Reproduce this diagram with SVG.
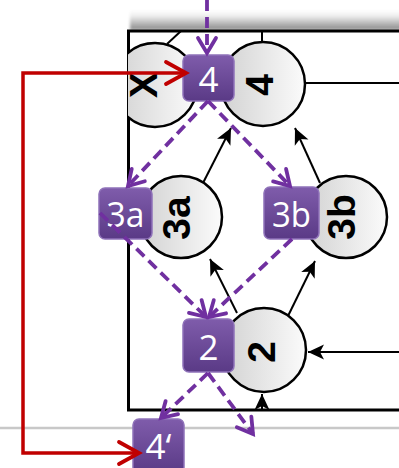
<svg xmlns="http://www.w3.org/2000/svg" width="399" height="468" viewBox="0 0 399 468">
  <style>
    .frame { stroke: #000; stroke-width: 3; fill: none; }
    .wire { stroke: #000; stroke-width: 2; fill: none; }
    .circ { fill: url(#circFill); stroke: #000; stroke-width: 2.5; }
    .ctext { font-family: "Liberation Sans", Arial, sans-serif; font-weight: bold; font-size: 39px; fill: #000; text-anchor: middle; }
    .tag { fill: url(#tagFill); stroke: #8f72b9; stroke-width: 1.5; }
    .ttext { font-family: "Open Sans", "Noto Sans", sans-serif; font-size: 35px; fill: #fff; text-anchor: middle; }
    .flow { stroke: #7030a0; stroke-width: 3.8; stroke-dasharray: 11 6; fill: none; marker-end: url(#vHead); }
    .back { stroke: #c00000; stroke-width: 3.5; fill: none; marker-start: url(#rHead); marker-end: url(#rHead); }
  </style>
  <defs>
    <linearGradient id="circFill" x1="0" y1="0" x2="1" y2="0">
      <stop offset="0" stop-color="#d2d2d2"/>
      <stop offset="1" stop-color="#fbfbfb"/>
    </linearGradient>
    <linearGradient id="tagFill" x1="0" y1="0" x2="0" y2="1">
      <stop offset="0" stop-color="#7f5cab"/>
      <stop offset="1" stop-color="#5a3a86"/>
    </linearGradient>
    <linearGradient id="shade" x1="0" y1="0" x2="0" y2="1">
      <stop offset="0" stop-color="#ffffff"/>
      <stop offset="0.3" stop-color="#eeeeee"/>
      <stop offset="1" stop-color="#888888"/>
    </linearGradient>
    <filter id="soft" x="-10%" y="-50%" width="120%" height="200%">
      <feGaussianBlur stdDeviation="1.5"/>
    </filter>
    <clipPath id="inside">
      <rect x="128" y="31" width="280" height="380"/>
    </clipPath>
    <marker id="vHead" markerUnits="userSpaceOnUse" viewBox="-18 -12 22 24" refX="0" refY="0" markerWidth="22" markerHeight="24" orient="auto">
      <path d="M-15,-9 L0,0 L-15,9" fill="none" stroke="#7030a0" stroke-width="3.8" stroke-dasharray="none" stroke-linecap="round" stroke-linejoin="miter"/>
    </marker>
    <marker id="rHead" markerUnits="userSpaceOnUse" viewBox="-24 -14 28 28" refX="0" refY="0" markerWidth="28" markerHeight="28" orient="auto-start-reverse">
      <path d="M-20,-11 L0,0 L-20,11" fill="none" stroke="#c00000" stroke-width="3.8" stroke-linecap="round"/>
    </marker>
    <marker id="kHead" markerUnits="userSpaceOnUse" viewBox="-17 -9 19 18" refX="0" refY="0" markerWidth="19" markerHeight="18" orient="auto">
      <path d="M0,0 L-16,-7.5 L-12,0 L-16,7.5 Z" fill="#000"/>
    </marker>
  </defs>

  <!-- page rule and frame -->
  <line x1="0" y1="428" x2="399" y2="428" stroke="#c8c8c8" stroke-width="2.5"/>
  <rect x="130" y="10" width="275" height="20" fill="url(#shade)" filter="url(#soft)"/>
  <g id="frame">
    <path class="frame" d="M399,31 H128.5 V410 H399"/>
  </g>

  <!-- circuit wires -->
  <g id="wires">
    <line class="wire" x1="167" y1="44" x2="181" y2="31"/>
    <line class="wire" x1="262" y1="31" x2="262" y2="43"/>
    <line class="wire" x1="305" y1="83" x2="399" y2="83"/>
    <line class="wire" x1="203" y1="183" x2="231" y2="128" marker-end="url(#kHead)"/>
    <line class="wire" x1="320" y1="183" x2="295" y2="128" marker-end="url(#kHead)"/>
    <line class="wire" x1="237" y1="313" x2="210" y2="259" marker-end="url(#kHead)"/>
    <line class="wire" x1="288" y1="316" x2="315" y2="261" marker-end="url(#kHead)"/>
    <line class="wire" x1="399" y1="352" x2="308" y2="352" marker-end="url(#kHead)"/>
    <line class="wire" x1="262" y1="410" x2="262" y2="394" marker-end="url(#kHead)"/>
  </g>

  <!-- circuit stages -->
  <g id="stageX" clip-path="url(#inside)">
    <circle class="circ" cx="155" cy="85" r="42"/>
    <text class="ctext" transform="translate(157,85) rotate(-90)">X</text>
  </g>
  <g id="stage4">
    <circle class="circ" cx="263" cy="84" r="42"/>
    <text class="ctext" transform="translate(273,85) rotate(-90)">4</text>
  </g>
  <g id="stage3a">
    <circle class="circ" cx="181" cy="217" r="41"/>
    <text class="ctext" transform="translate(190,218) rotate(-90)">3a</text>
  </g>
  <g id="stage3b">
    <circle class="circ" cx="346" cy="217" r="41"/>
    <text class="ctext" transform="translate(355,217) rotate(-90)">3b</text>
  </g>
  <g id="stage2">
    <circle class="circ" cx="264" cy="350" r="42"/>
    <text class="ctext" transform="translate(275,352) rotate(-90)">2</text>
  </g>

  <!-- purple step tags -->
  <g id="tag4">
    <rect class="tag" x="183" y="55" width="51" height="46" rx="6"/>
    <text class="ttext" x="208.5" y="92">4</text>
  </g>
  <g id="tag3a">
    <rect class="tag" x="99" y="188" width="53" height="51" rx="6"/>
    <text class="ttext" x="125.5" y="227" textLength="38" lengthAdjust="spacingAndGlyphs">3a</text>
  </g>
  <g id="tag3b">
    <rect class="tag" x="264" y="187" width="55" height="52" rx="6"/>
    <text class="ttext" x="291.5" y="227" textLength="39" lengthAdjust="spacingAndGlyphs">3b</text>
  </g>
  <g id="tag2">
    <rect class="tag" x="183" y="319" width="51" height="53" rx="6"/>
    <text class="ttext" x="208.5" y="360">2</text>
  </g>
  <g id="tag4prime">
    <rect class="tag" x="133" y="419" width="51" height="54" rx="6"/>
    <text class="ttext" x="158.5" y="459">4‘</text>
  </g>

  <!-- step order connectors -->
  <g id="connectors">
    <line class="flow" x1="207" y1="0" x2="207" y2="53"/>
    <line class="flow" x1="208" y1="101" x2="128" y2="186"/>
    <line class="flow" x1="208" y1="101" x2="290" y2="186"/>
    <line class="flow" x1="100" y1="213" x2="206" y2="317"/>
    <line class="flow" x1="292" y1="239" x2="209" y2="317"/>
    <line class="flow" x1="208" y1="373" x2="161" y2="418"/>
    <line class="flow" x1="208" y1="373" x2="253" y2="434"/>
    <path class="back" d="M186,73 H23 V453 H139"/>
  </g>
</svg>
